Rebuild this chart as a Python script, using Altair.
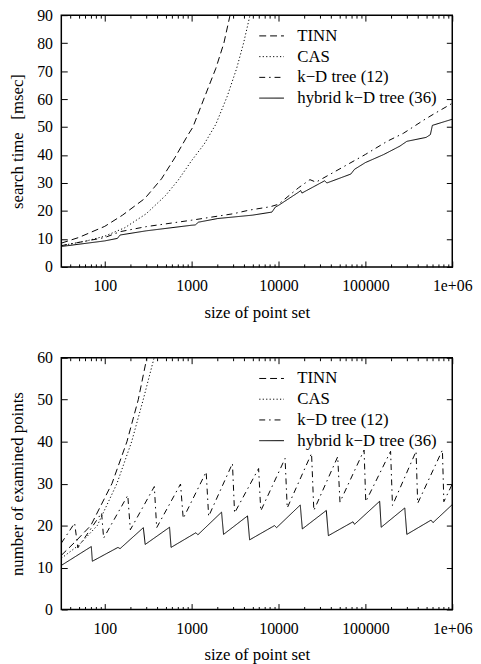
import altair as alt
import pandas as pd

SERIES = ["TINN", "CAS", "k\u2212D tree (12)", "hybrid k\u2212D tree (36)"]
DASHES = [[7, 4], [1.2, 2.3], [6, 4, 1.5, 4], [1, 0]]

X_MAJOR = [100, 1000, 10000, 100000, 1000000]
X_MINOR = [40, 50, 60, 70, 80, 90,
           200, 300, 400, 500, 600, 700, 800, 900,
           2000, 3000, 4000, 5000, 6000, 7000, 8000, 9000,
           20000, 30000, 40000, 50000, 60000, 70000, 80000, 90000,
           200000, 300000, 400000, 500000, 600000, 700000, 800000, 900000]
Y_TICKS_TOP = [0, 10, 20, 30, 40, 50, 60, 70, 80, 90]
Y_TICKS_BOT = [0, 10, 20, 30, 40, 50, 60]

# ---- top panel: search time [msec]
top_tinn_n = [31.6, 50, 100, 160, 290, 450, 640, 900, 1035, 1380, 1900, 2350, 2770]
top_tinn_v = [8.5, 10.5, 14.5, 18.5, 24.5, 31.5, 39, 47, 50, 60, 71, 80, 90]
top_cas_n = [31.6, 60, 100, 170, 300, 500, 700, 1000, 1400, 1900, 2570, 3300, 3960, 4700]
top_cas_v = [7.6, 9.2, 11, 14, 19, 25.5, 31, 38, 44, 51, 61, 71, 80, 90]
top_kd_n = [31.6, 100, 150, 300, 1000, 3000, 4600, 8000, 10000, 17000, 23000, 27000,
            43000, 100000, 178000, 275000, 470000, 600000, 1000000]
top_kd_v = [7.6, 10.5, 12.6, 14.4, 16.7, 19, 20.3, 21.5, 22.4, 28.3, 31.2, 30.3,
            33.8, 40.2, 44.9, 47.8, 52.5, 54.5, 58.5]
top_hy_n = [31.6, 100, 140, 150, 300, 1000, 1100, 1200, 2000, 5000, 8400, 9200, 10000,
            17000, 18000, 18600, 34000, 36000, 68000, 75000, 100000, 163000, 250000,
            300000, 500000, 560000, 590000, 1000000]
top_hy_v = [7.3, 9.3, 10.2, 11.4, 12.9, 14.9, 15.0, 16.0, 17.3, 18.5, 19.6, 21.4, 22,
            26.7, 27.3, 26.4, 30.8, 30.0, 33.2, 34.9, 37.3, 40.2, 43.2,
            44.9, 46.3, 47.3, 50.6, 52.8]

# ---- bottom panel: number of examined points
bot_tinn_n = [31.6, 45, 69, 121, 180, 243, 305]
bot_tinn_v = [12.9, 16, 20, 30, 40, 50, 60]
bot_cas_n = [31.6, 50, 82, 138, 204, 277, 370]
bot_cas_v = [12.2, 15.3, 20, 30, 40, 50, 60]
bot_kd_n = [31.6, 45, 49, 92, 97, 184, 197, 372, 396, 745, 800, 1470, 1570, 2950, 3120,
            5900, 6250, 11900, 12600, 24000, 25500, 48000, 51000, 96600, 101000,
            195000, 205000, 383000, 400000, 770000, 800000, 1000000]
bot_kd_v = [15.8, 20.6, 14.7, 23, 17, 27.2, 19, 29.3, 19.5, 29.9, 21.7, 32.8, 22.2, 34.8, 23,
            33.6, 23.5, 36.0, 24.2, 37.2, 23.6, 36.4, 25.6, 38.0, 25.7,
            37.7, 24.8, 37.7, 25.3, 38.0, 25.7, 29.9]
bot_hy_n = [31.6, 70, 72, 142, 150, 278, 292, 557, 580, 1120, 1180, 2210, 2330, 4400, 4650,
            9000, 9500, 17800, 18800, 35500, 37500, 72000, 75000, 146000, 152000,
            284000, 300000, 570000, 600000, 1000000]
bot_hy_v = [10.5, 15.0, 11.5, 14.8, 14.5, 19.5, 15.5, 19.6, 14.8, 18.3, 17.8, 23.2, 17.9, 22.3, 16.6,
            20.0, 19.5, 24.9, 19.2, 23.6, 17.6, 20.9, 20.3, 25.8, 19.6,
            24.2, 17.9, 21.3, 20.7, 25.0]


def frame(groups):
    rows = []
    for name, ns, vs in groups:
        for i, (n, v) in enumerate(zip(ns, vs)):
            rows.append({"series": name, "n": n, "v": v, "i": i})
    return pd.DataFrame(rows)


top_df = frame([(SERIES[0], top_tinn_n, top_tinn_v), (SERIES[1], top_cas_n, top_cas_v),
                (SERIES[2], top_kd_n, top_kd_v), (SERIES[3], top_hy_n, top_hy_v)])
bot_df = frame([(SERIES[0], bot_tinn_n, bot_tinn_v), (SERIES[1], bot_cas_n, bot_cas_v),
                (SERIES[2], bot_kd_n, bot_kd_v), (SERIES[3], bot_hy_n, bot_hy_v)])

FONT = "Liberation Serif, Times New Roman, DejaVu Serif, serif"
LABEL_EXPR = "datum.value >= 999999 ? '1e+06' : format(datum.value, 'd')"


def panel(df, ymax, yticks, ytitle):
    xs = alt.Scale(type="log", domain=[31.62, 1000000], nice=False)
    ys = alt.Scale(domain=[0, ymax], nice=False, zero=False)
    common = dict(domain=False, grid=False, tickColor="black", tickWidth=1)

    lines = alt.Chart(df).mark_line(color="black", strokeWidth=1, clip=True).encode(
        x=alt.X("n:Q", scale=xs, axis=alt.Axis(
            orient="bottom", values=X_MAJOR, labelExpr=LABEL_EXPR, offset=-6, tickSize=6,
            labelPadding=11, labelFlush=False, labelOverlap=False,
            title="size of point set", titlePadding=11, **common)),
        y=alt.Y("v:Q", scale=ys, axis=alt.Axis(
            orient="left", values=yticks, offset=-6, tickSize=6, labelPadding=9,
            labelOverlap=False, title=ytitle, titlePadding=10, **common)),
        strokeDash=alt.StrokeDash("series:N", scale=alt.Scale(domain=SERIES, range=DASHES),
                                  legend=alt.Legend(
                                      orient="none", legendX=200, legendY=8, title=None,
                                      symbolType="stroke", symbolSize=625, symbolStrokeWidth=1,
                                      symbolStrokeColor="black", labelOffset=13, rowPadding=-2,
                                      padding=0, labelLimit=400)),
        order="i:Q",
    )

    def ghost():
        return alt.Chart(df).mark_line(opacity=0).encode(detail="series:N")

    top_major = ghost().encode(
        x=alt.X("n:Q", scale=xs, title=None, axis=alt.Axis(
            orient="top", values=X_MAJOR, labels=False, offset=-6, tickSize=6, **common)),
        y=alt.Y("v:Q", scale=ys, title=None, axis=alt.Axis(
            orient="right", values=yticks, labels=False, offset=-6, tickSize=6, **common)),
    )
    bottom_minor = ghost().encode(
        x=alt.X("n:Q", scale=xs, title=None, axis=alt.Axis(
            orient="bottom", values=X_MINOR, labels=False, offset=-3, tickSize=3, **common)),
        y=alt.Y("v:Q", scale=ys, axis=None),
    )
    top_minor = ghost().encode(
        x=alt.X("n:Q", scale=xs, title=None, axis=alt.Axis(
            orient="top", values=X_MINOR, labels=False, offset=-3, tickSize=3, **common)),
        y=alt.Y("v:Q", scale=ys, axis=None),
    )
    return alt.layer(lines, top_major, bottom_minor, top_minor).resolve_axis(
        x="independent", y="independent").properties(width=396, height=255)


top = panel(top_df, 90, Y_TICKS_TOP, "search time \u00a0\u00a0[msec]")
bottom = panel(bot_df, 60, Y_TICKS_BOT, "number of examined points")

chart = alt.vconcat(top, bottom, spacing=28).resolve_scale(
    x="independent", y="independent", strokeDash="independent"
).properties(
    padding={"left": 0, "top": -6, "right": 0, "bottom": 0}
).configure_view(
    stroke="black", strokeWidth=1.5
).configure_axis(
    labelFont=FONT, titleFont=FONT, labelFontSize=16, titleFontSize=17,
    titleFontWeight="normal", labelColor="black", titleColor="black"
).configure_legend(
    labelFont=FONT, labelFontSize=17, labelColor="black"
)

chart.save("out.html", embed_options={"renderer": "svg", "actions": False})
